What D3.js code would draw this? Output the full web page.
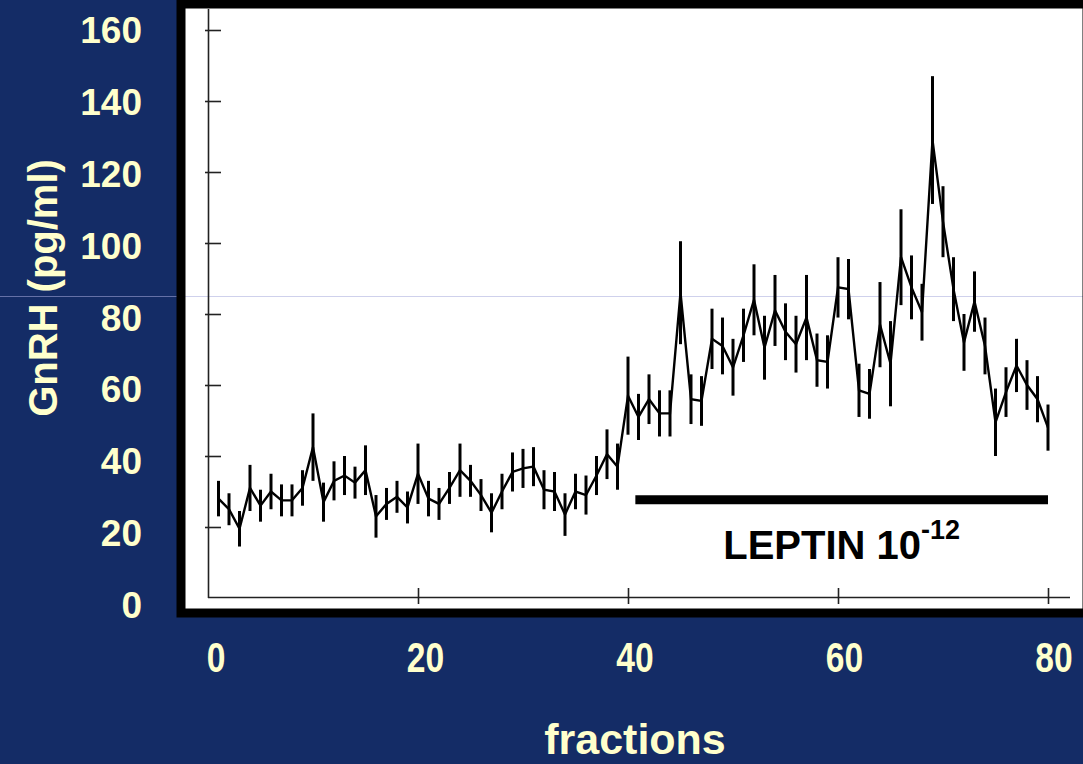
<!DOCTYPE html>
<html>
<head>
<meta charset="utf-8">
<script src="https://cdn.jsdelivr.net/npm/d3@7"></script>
<style>
  body { margin: 0; background: #142c66; }
  svg { display: block; }
</style>
</head>
<body>
<div id="wrapper"></div>
<script>
// GnRH release per fraction (mean and SEM), fractions 1..80
const fractions = d3.range(1, 81);
const gnrh = [
  28, 25, 19.5, 31, 26, 30, 27.5, 27.5, 31, 42.5,
  27, 33, 34.5, 32.5, 36, 23, 26.5, 28.5, 25.5, 35,
  28, 26.5, 31, 36, 33, 29, 24, 30, 35.5, 36.5,
  37, 30.5, 30, 23.5, 30, 29, 34.5, 40.5, 37, 57,
  51, 56, 52, 52, 86, 56, 55.5, 73, 71, 65,
  74, 84, 70.5, 81, 75, 71.5, 79, 67, 66.5, 87.5,
  87, 58.5, 57.5, 77, 66, 96, 87.5, 80.5, 129, 106,
  87, 72, 83.5, 71, 49.5, 58, 65.5, 60, 56, 48
];
const sem = [
  5, 4.5, 5, 6.5, 4.5, 5, 4.5, 4.5, 5, 9.5,
  5.5, 5.5, 5.5, 4.5, 7, 6, 4.5, 4.5, 4.5, 8.5,
  5, 4.5, 4.5, 7.5, 4.5, 4.5, 5.5, 5, 5.5, 5.5,
  5.5, 5.5, 5.5, 6, 5, 5.5, 5.5, 7, 6.5, 11,
  6.5, 7, 6.5, 6.5, 14.5, 7, 7, 8.5, 8, 8,
  7.5, 10, 9, 10, 8, 8, 12, 7.5, 7.5, 8.5,
  8.5, 7.5, 7, 12, 12, 13.5, 9, 8, 18, 10,
  9, 8, 8.5, 8, 9.5, 7, 7.5, 7, 6.5, 6.5
];
const yTicks = [0, 20, 40, 60, 80, 100, 120, 140, 160];
const xTicks = [0, 20, 40, 60, 80];
const leptin = { start: 40.7, end: 80, level: 27.7 };

const W = 1083, H = 764;
const cream = "#ffffcc";

const svg = d3.select("#wrapper").append("svg")
  .attr("width", W).attr("height", H);

svg.append("rect").attr("width", W).attr("height", H).attr("fill", "#142c66");

const x = d3.scaleLinear().domain([0, 80]).range([208, 1048]);
const y = d3.scaleLinear().domain([0, 160]).range([598, 30]);
// outer labels sit slightly off the inner ticks
const xLab = d3.scaleLinear().domain([0, 80]).range([216, 1054]);
const yLab = d3.scaleLinear().domain([0, 160]).range([605, 30]);

// white panel
svg.append("rect")
  .attr("x", 181).attr("y", 4).attr("width", 906).attr("height", 609)
  .attr("fill", "#fff");

// faint guide line across the slide
svg.append("line")
  .attr("x1", 0).attr("x2", W).attr("y1", 296.5).attr("y2", 296.5)
  .attr("stroke", "#a8acdc").attr("stroke-opacity", 0.55).attr("stroke-width", 1);

// inner axes
svg.append("line")
  .attr("x1", 208.5).attr("x2", 208.5).attr("y1", 9).attr("y2", y(0))
  .attr("stroke", "#222").attr("stroke-width", 1.6);
svg.append("line")
  .attr("x1", 208).attr("x2", 1070).attr("y1", y(0) - 0.5).attr("y2", y(0) - 0.5)
  .attr("stroke", "#222").attr("stroke-width", 1.6);

const yAxis = svg.append("g")
  .attr("transform", "translate(205,0)")
  .call(d3.axisRight(y).tickValues(yTicks.slice(1)).tickSize(16).tickFormat(""));
const xAxis = svg.append("g")
  .attr("transform", `translate(0,${y(0) + 6})`)
  .call(d3.axisTop(x).tickValues(xTicks.slice(1)).tickSize(16).tickFormat(""));
[yAxis, xAxis].forEach(g => {
  g.select(".domain").remove();
  g.selectAll("line").attr("stroke", "#222").attr("stroke-width", 1.6);
});

// error bars
svg.append("g")
  .selectAll("line")
  .data(fractions)
  .enter()
  .append("line")
    .attr("x1", (d, i) => x(d)).attr("x2", (d, i) => x(d))
    .attr("y1", (d, i) => y(gnrh[i] - sem[i]))
    .attr("y2", (d, i) => y(gnrh[i] + sem[i]))
    .attr("stroke", "#000").attr("stroke-width", 3);

// mean line
svg.append("path")
  .datum(fractions)
  .attr("fill", "none").attr("stroke", "#000").attr("stroke-width", 2.4)
  .attr("stroke-linejoin", "miter")
  .attr("d", d3.line().x(d => x(d)).y((d, i) => y(gnrh[i])));

// leptin treatment bar
svg.append("line")
  .attr("x1", x(leptin.start)).attr("x2", x(leptin.end))
  .attr("y1", y(leptin.level)).attr("y2", y(leptin.level))
  .attr("stroke", "#000").attr("stroke-width", 9);

const lep = svg.append("text")
  .attr("x", (x(leptin.start) + x(leptin.end)) / 2)
  .attr("y", y(leptin.level) + 59)
  .attr("text-anchor", "middle")
  .style("font-family", "'Liberation Sans', Arial, sans-serif")
  .style("font-weight", "bold").style("font-size", "40px")
  .attr("fill", "#000");
lep.append("tspan").text("LEPTIN 10");
lep.append("tspan").attr("dy", -20).style("font-size", "27px").text("-12");

// frame border on top
svg.append("rect")
  .attr("x", 181).attr("y", 4).attr("width", 906).attr("height", 609)
  .attr("fill", "none").attr("stroke", "#000").attr("stroke-width", 9);

// y tick labels
svg.append("g")
  .selectAll("text")
  .data(yTicks)
  .enter()
  .append("text")
    .attr("x", 142)
    .attr("y", d => yLab(d) + 13)
    .attr("text-anchor", "end")
    .style("font-family", "'Liberation Sans', Arial, sans-serif")
    .style("font-weight", "bold").style("font-size", "37px")
    .attr("fill", cream)
    .text(d => d);

// x tick labels (narrow, like the slide's hand-drawn face)
svg.append("g")
  .selectAll("text")
  .data(xTicks)
  .enter()
  .append("text")
    .attr("transform", d => `translate(${xLab(d)},672) scale(0.8,1)`)
    .attr("text-anchor", "middle")
    .style("font-family", "'Liberation Sans', Arial, sans-serif")
    .style("font-weight", "bold").style("font-size", "42px")
    .attr("fill", cream)
    .text(d => d);

// axis titles
svg.append("text")
  .attr("transform", "translate(57,288) rotate(-90)")
  .attr("text-anchor", "middle")
  .style("font-family", "'Liberation Sans', Arial, sans-serif")
  .style("font-weight", "bold").style("font-size", "40px")
  .attr("fill", cream)
  .text("GnRH (pg/ml)");

svg.append("text")
  .attr("x", 635).attr("y", 754)
  .attr("text-anchor", "middle")
  .style("font-family", "'Liberation Sans', Arial, sans-serif")
  .style("font-weight", "bold").style("font-size", "43px")
  .attr("fill", cream)
  .text("fractions");
</script>
</body>
</html>
